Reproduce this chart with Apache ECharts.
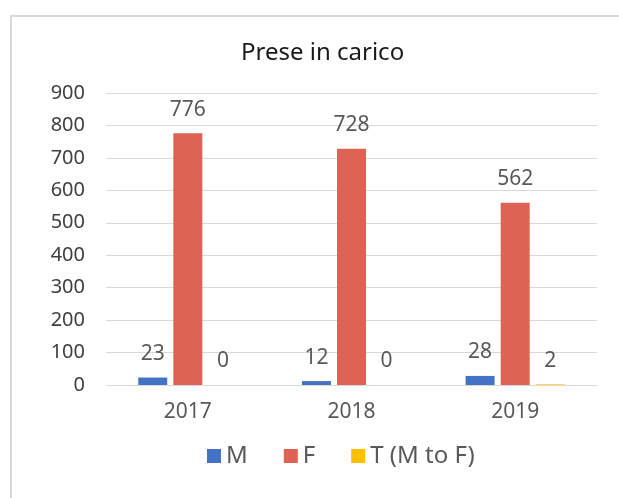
<!DOCTYPE html>
<html>
<head>
<meta charset="utf-8">
<script src="https://cdn.jsdelivr.net/npm/echarts@6/dist/echarts.min.js"></script>
<style>
  html, body { margin: 0; padding: 0; background: #fff; }
  #chart { width: 619px; height: 498px; }
</style>
</head>
<body>
<div id="chart"></div>
<script>
const years = ['2017', '2018', '2019']
const maleValues = [23, 12, 28]
const femaleValues = [776, 728, 562]
const transValues = [0, 0, 2]
const seriesNames = ['M', 'F', 'T (M to F)']

const font = 'Noto Sans'
const labelStyle = {
  show: true, position: 'top', distance: 13,
  color: '#595959', fontSize: 21, fontFamily: font
}

function barSeries(name, data, color) {
  return {
    name, type: 'bar', data,
    barWidth: 29, barGap: '21%',
    itemStyle: { color },
    label: labelStyle
  }
}

const chart = echarts.init(document.getElementById('chart'))
chart.setOption({
  backgroundColor: '#fff',
  animation: false,
  graphic: [{
    type: 'rect', silent: true,
    shape: { x: 11, y: 16, width: 700, height: 600 },
    style: { fill: 'none', stroke: '#d9d9d9', lineWidth: 2 }
  }],
  title: {
    text: 'Prese in carico',
    left: 236, top: 36,
    textStyle: { color: '#1a1a1a', fontSize: 24, fontWeight: 'normal', fontFamily: font }
  },
  legend: {
    data: seriesNames,
    left: 202, top: 439,
    itemWidth: 14, itemHeight: 14, itemGap: 36,
    icon: 'rect',
    textStyle: { color: '#595959', fontSize: 24, fontFamily: font }
  },
  grid: { left: 106, right: 22, top: 93, bottom: 113 },
  xAxis: {
    type: 'category', data: years,
    axisTick: { show: false },
    axisLine: { lineStyle: { color: '#d9d9d9', width: 1 } },
    axisLabel: { color: '#595959', fontSize: 21, fontFamily: font, margin: 17 }
  },
  yAxis: {
    type: 'value', min: 0, max: 900, interval: 100,
    axisLine: { show: false },
    axisTick: { show: false },
    axisLabel: { color: '#404040', fontSize: 20, fontFamily: font, margin: 21 },
    splitLine: { lineStyle: { color: '#d9d9d9', width: 1 } }
  },
  series: [
    barSeries(seriesNames[0], maleValues, '#4472C4'),
    barSeries(seriesNames[1], femaleValues, '#DD6354'),
    barSeries(seriesNames[2], transValues, '#FFC000')
  ]
})
</script>
</body>
</html>
